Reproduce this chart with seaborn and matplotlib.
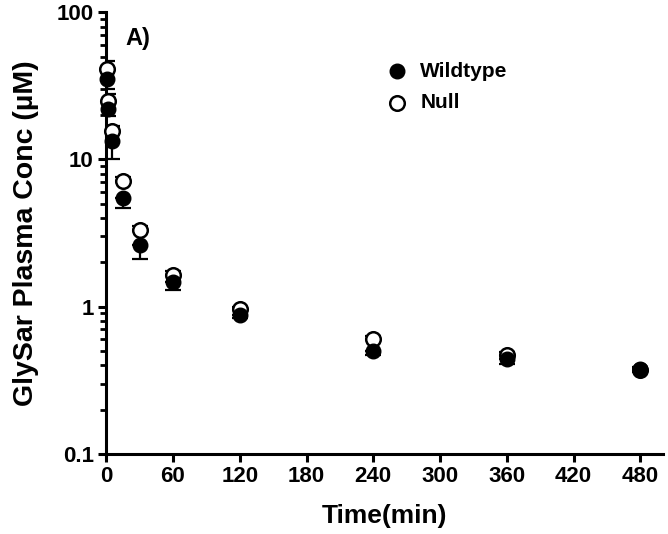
import numpy as np
import pandas as pd
import seaborn as sns
import matplotlib.pyplot as plt
from matplotlib.ticker import LogLocator, FixedLocator, FuncFormatter

# --- DATA ---
time_min = [1, 2, 5, 15, 30, 60, 120, 240, 360, 480]
wildtype = [35, 22, 13.3, 5.5, 2.63, 1.48, 0.88, 0.50, 0.44, 0.38]
wildtype_err = [5, 2.3, 3.3, 0.8, 0.53, 0.18, 0.04, 0.03, 0.03, 0.02]
null = [41, 25, 15.6, 7.1, 3.33, 1.65, 0.96, 0.60, 0.47, 0.37]
null_err = [6, 3, 1.3, 0.5, 0.2, 0.1, 0.04, 0.03, 0.02, 0.02]

df = pd.DataFrame({
    'time': time_min * 2,
    'conc': wildtype + null,
    'group': ['Wildtype'] * len(time_min) + ['Null'] * len(time_min),
})

sns.set_theme(style="ticks")
plt.rcParams['font.family'] = ['Liberation Sans', 'DejaVu Sans']
plt.rcParams['font.weight'] = 'bold'
for key in ['text.color', 'axes.labelcolor', 'xtick.color', 'ytick.color', 'axes.edgecolor']:
    plt.rcParams[key] = 'black'

fig = plt.figure(figsize=(6.68, 5.34), dpi=100)
ax = fig.add_axes([0.159, 0.150, 0.833, 0.827])

# error bars: wildtype below, null above (GraphPad style)
ax.errorbar(time_min, wildtype, yerr=[wildtype_err, [0] * len(wildtype)], fmt='none',
            ecolor='black', elinewidth=1.6, capsize=6, capthick=1.6, zorder=2)
ax.errorbar(time_min, null, yerr=[[0] * len(null), null_err], fmt='none',
            ecolor='black', elinewidth=1.6, capsize=6, capthick=1.6, zorder=2)

sns.scatterplot(data=df[df['group'] == 'Null'], x='time', y='conc', ax=ax,
                marker='o', s=110, facecolor='white', edgecolor='black',
                linewidth=1.8, zorder=3, label='Null', clip_on=False)
sns.scatterplot(data=df[df['group'] == 'Wildtype'], x='time', y='conc', ax=ax,
                marker='o', s=110, color='black', edgecolor='black',
                linewidth=1.0, zorder=4, label='Wildtype', clip_on=False)

ax.set_yscale('log')
ax.set_ylim(0.1, 100)
ax.set_xlim(0, 500)
ax.xaxis.set_major_locator(FixedLocator(np.arange(0, 481, 60)))
ax.yaxis.set_major_locator(FixedLocator([0.1, 1, 10, 100]))
ax.yaxis.set_major_formatter(FuncFormatter(lambda v, p: f'{v:g}'))
ax.yaxis.set_minor_locator(LogLocator(base=10, subs=np.arange(2, 10)))

for side in ['top', 'right']:
    ax.spines[side].set_visible(False)
for side in ['left', 'bottom']:
    ax.spines[side].set_linewidth(2.2)

ax.tick_params(axis='both', which='major', direction='out', length=6, width=2.2,
               labelsize=16, pad=3)
ax.tick_params(axis='y', which='minor', direction='out', length=4, width=2.0)
for lab in ax.get_xticklabels() + ax.get_yticklabels():
    lab.set_fontweight('bold')

ax.set_xlabel('Time(min)', fontsize=19, fontweight='bold', labelpad=12)
ax.set_ylabel('GlySar Plasma Conc (\u00b5M)', fontsize=20.5, fontweight='bold', labelpad=13)

ax.text(0.034, 0.966, 'A)', transform=ax.transAxes, fontsize=17, fontweight='bold',
        va='top', ha='left')

handles, labels = ax.get_legend_handles_labels()
order = [labels.index('Wildtype'), labels.index('Null')]
ax.legend([handles[i] for i in order], [labels[i] for i in order],
          loc='upper left', bbox_to_anchor=(0.452, 0.93), frameon=False,
          prop={'weight': 'bold', 'size': 15}, handletextpad=0.1,
          labelspacing=0.6, markerscale=1.0)

fig.savefig('out.png', dpi=100)
